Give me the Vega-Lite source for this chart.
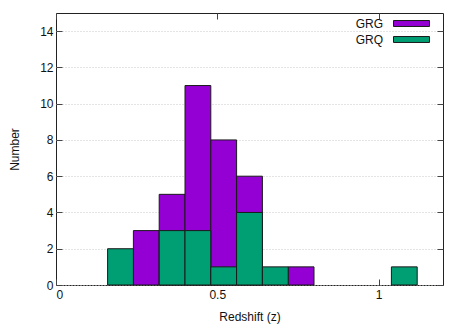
{
  "$schema": "https://vega.github.io/schema/vega-lite/v6.json",
  "width": 387,
  "height": 272,
  "autosize": {"type": "none"},
  "padding": {"left": 56, "top": 13, "right": 24, "bottom": 42},
  "background": "white",
  "config": {
    "view": {"stroke": "#222", "strokeWidth": 1},
    "font": "Liberation Sans",
    "axis": {"labelFont": "Liberation Sans", "titleFont": "Liberation Sans", "labelFontSize": 12, "titleFontSize": 12, "titleFontWeight": "normal", "labelColor": "#111", "titleColor": "#111"}
  },
  "data": {
    "values": [
      {"z0": 0.24, "z1": 0.32, "count": 3, "group": "GRG"},
      {"z0": 0.32, "z1": 0.40, "count": 5, "group": "GRG"},
      {"z0": 0.40, "z1": 0.48, "count": 11, "group": "GRG"},
      {"z0": 0.48, "z1": 0.56, "count": 8, "group": "GRG"},
      {"z0": 0.56, "z1": 0.64, "count": 6, "group": "GRG"},
      {"z0": 0.72, "z1": 0.80, "count": 1, "group": "GRG"},
      {"z0": 0.16, "z1": 0.24, "count": 2, "group": "GRQ"},
      {"z0": 0.32, "z1": 0.40, "count": 3, "group": "GRQ"},
      {"z0": 0.40, "z1": 0.48, "count": 3, "group": "GRQ"},
      {"z0": 0.48, "z1": 0.56, "count": 1, "group": "GRQ"},
      {"z0": 0.56, "z1": 0.64, "count": 4, "group": "GRQ"},
      {"z0": 0.64, "z1": 0.72, "count": 1, "group": "GRQ"},
      {"z0": 1.04, "z1": 1.12, "count": 1, "group": "GRQ"}
    ]
  },
  "layer": [
    {
      "mark": {"type": "rect", "stroke": "#1a1a1a", "strokeWidth": 1},
      "encoding": {
        "x": {"field": "z0", "type": "quantitative", "scale": {"domain": [0, 1.2], "nice": false},
              "axis": {"orient": "bottom", "values": [0, 0.5, 1], "format": "~g", "grid": false, "tickSize": -6, "tickColor": "#444", "labelPadding": 10, "domain": false, "title": "Redshift (z)", "titlePadding": 11}},
        "x2": {"field": "z1"},
        "y": {"field": "count", "type": "quantitative", "scale": {"domain": [0, 15], "nice": false},
              "axis": {"orient": "left", "values": [0, 2, 4, 6, 8, 10, 12, 14], "grid": true, "gridColor": "#c8c8c8", "gridDash": [1, 2], "tickSize": -6, "tickColor": "#444", "labelPadding": 9, "domain": false, "title": "Number", "titlePadding": 18}},
        "y2": {"datum": 0},
        "color": {"field": "group", "type": "nominal",
                  "scale": {"domain": ["GRG", "GRQ"], "range": ["#9400d3", "#009e73"]},
                  "legend": {"title": null, "orient": "none", "legendX": 346, "legendY": 1, "padding": 0, "rowPadding": -8,
                             "symbolType": "M-2,-0.33H2V0.33H-2Z", "symbolSize": 324, "symbolStrokeColor": "#1a1a1a", "symbolStrokeWidth": 1, "symbolOpacity": 1,
                             "labelAlign": "right", "labelOffset": -38, "labelFontSize": 12, "labelFont": "Liberation Sans", "labelColor": "#111"}}
      }
    },
    {
      "mark": {"type": "rule", "opacity": 0},
      "encoding": {
        "x": {"datum": 0, "type": "quantitative", "axis": {"orient": "top", "values": [0, 0.5, 1], "labels": false, "title": null, "grid": false, "tickSize": -6, "tickColor": "#444", "domain": false}},
        "y": {"datum": 0, "type": "quantitative", "axis": {"orient": "right", "values": [0, 2, 4, 6, 8, 10, 12, 14], "labels": false, "title": null, "grid": false, "tickSize": -6, "tickColor": "#444", "domain": false}}
      }
    }
  ]
}
